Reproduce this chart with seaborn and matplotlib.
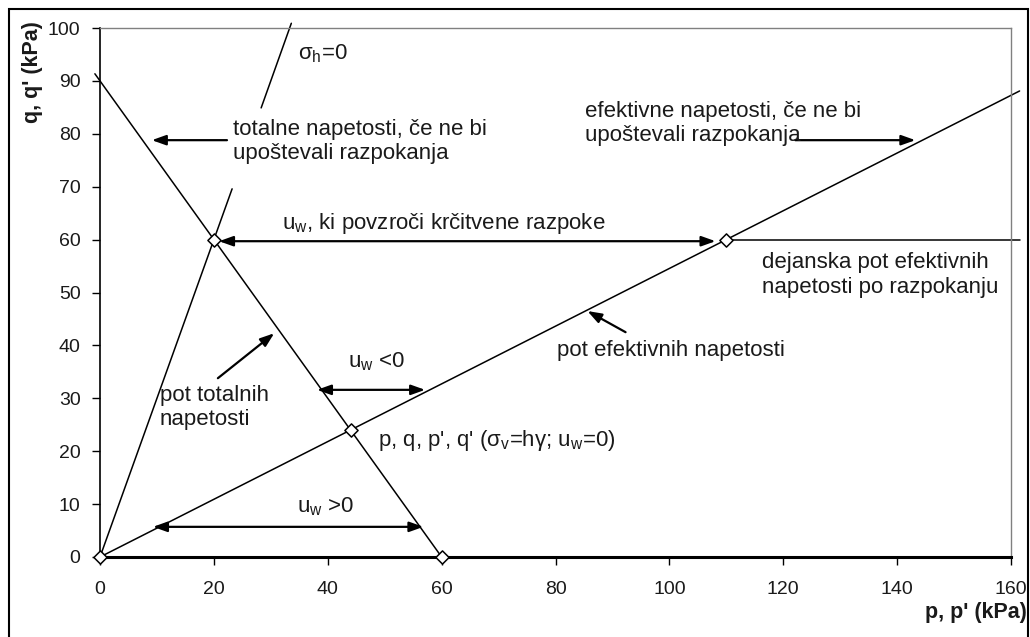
import matplotlib
matplotlib.use("Agg")
import matplotlib.pyplot as plt
import matplotlib.patches as patches
import seaborn as sns
import pandas as pd

# podatki (kPa)
total_p = [-0.9, 60]          # pot totalnih napetosti
total_q = [91.35, 0]
eff_p = [0, 161.5]            # pot efektivnih napetosti
eff_q = [0, 88.1]
crack_p = [110, 161.5]        # dejanska pot po razpokanju
crack_q = [60, 60]
sigh_lo_p = [0, 23.2]         # sigma_h = 0 (spodnji del)
sigh_lo_q = [0, 69.6]
sigh_hi_p = [28.3, 33.6]      # sigma_h = 0 (zgornji del)
sigh_hi_q = [84.9, 100.9]
pts_p = [0, 20, 44, 110, 60]
pts_q = [0, 60, 24, 60, 0]
x_ticks = list(range(0, 161, 20))
y_ticks = list(range(0, 101, 10))

sns.set_theme(style="white")
plt.rcParams['font.family'] = ['Liberation Sans', 'DejaVu Sans']
plt.rcParams['mathtext.fontset'] = 'custom'
plt.rcParams['mathtext.rm'] = 'Liberation Sans'
plt.rcParams['mathtext.it'] = 'Liberation Sans:italic'

fig = plt.figure(figsize=(10.3, 6.37), dpi=100)
ax = fig.add_axes([0.0971, 0.1256, 0.8845, 0.8304])

tc = '#1a1a1a'
for px, qy in [(total_p, total_q), (eff_p, eff_q), (crack_p, crack_q),
               (sigh_lo_p, sigh_lo_q), (sigh_hi_p, sigh_hi_q)]:
    df = pd.DataFrame({'p': px, 'q': qy})
    sns.lineplot(data=df, x='p', y='q', sort=False, color='black', lw=1.1,
                 ax=ax, clip_on=False)

sns.scatterplot(x=pts_p, y=pts_q, marker='D', s=45, facecolor='white',
                edgecolor='black', linewidth=1.1, zorder=5, ax=ax, clip_on=False)

def arrow(x1, y1, x2, y2, style='-|>'):
    ax.annotate('', xy=(x2, y2), xytext=(x1, y1),
                arrowprops=dict(arrowstyle=style + ',head_length=0.7,head_width=0.25',
                                lw=1.6, color='black', mutation_scale=12,
                                shrinkA=0, shrinkB=0), annotation_clip=False)

arrow(22.3, 78.8, 9.1, 78.8)
arrow(20.9, 59.7, 108.1, 59.7, '<|-|>')
arrow(122.1, 78.8, 143.2, 78.8)
arrow(92.3, 42.5, 85.6, 46.5)
arrow(20.7, 33.8, 30.6, 42.3)
arrow(38.1, 31.6, 57.1, 31.6, '<|-|>')
arrow(9.3, 5.7, 56.8, 5.7, '<|-|>')

fs = 16
ls = 1.2
ax.text(34.8, 95.1, 'σ$_\\mathrm{h}$=0', fontsize=fs, color=tc, va='center')
ax.text(23.4, 78.6, 'totalne napetosti, če ne bi\nupoštevali razpokanja',
        fontsize=fs, color=tc, va='center', linespacing=ls)
ax.text(32.0, 63.1, 'u$_\\mathrm{w}$, ki povzroči krčitvene razpoke',
        fontsize=fs, color=tc, va='center')
ax.text(85.2, 82.0, 'efektivne napetosti, če ne bi\nupoštevali razpokanja',
        fontsize=fs, color=tc, va='center', linespacing=ls)
ax.text(116.3, 53.3, 'dejanska pot efektivnih\nnapetosti po razpokanju',
        fontsize=fs, color=tc, va='center', linespacing=ls)
ax.text(80.3, 39.1, 'pot efektivnih napetosti', fontsize=fs, color=tc, va='center')
ax.text(10.5, 28.2, 'pot totalnih\nnapetosti', fontsize=fs, color=tc,
        va='center', linespacing=ls)
ax.text(43.6, 36.9, 'u$_\\mathrm{w}$ <0', fontsize=fs, color=tc, va='center')
ax.text(48.9, 22.1, "p, q, p', q' (σ$_\\mathrm{v}$=hγ; u$_\\mathrm{w}$=0)",
        fontsize=fs, color=tc, va='center')
ax.text(34.6, 9.5, 'u$_\\mathrm{w}$ >0', fontsize=fs, color=tc, va='center')

ax.set_xlim(0, 160)
ax.set_ylim(0, 100)
ax.set_xticks(x_ticks)
ax.set_yticks(y_ticks)
ax.tick_params(axis='both', labelsize=14, labelcolor=tc, color='black',
               direction='out', length=6, width=1, left=True, bottom=True)
ax.tick_params(axis='x', pad=11)
ax.tick_params(axis='y', pad=8)

ax.set_xlabel("p, p' (kPa)", fontsize=15.5, fontweight='bold', color=tc,
              ha='right', va='center')
ax.xaxis.set_label_coords(1.0176, -0.104)
ax.set_ylabel("q, q' (kPa)", fontsize=15.5, fontweight='bold', color=tc,
              ha='center', va='center')
ax.yaxis.set_label_coords(-0.0746, 0.917)

ax.spines['bottom'].set_linewidth(2.2)
ax.spines['bottom'].set_color('black')
ax.spines['left'].set_linewidth(1.2)
ax.spines['left'].set_color('black')
for s in ['top', 'right']:
    ax.spines[s].set_linewidth(1.0)
    ax.spines[s].set_color('#808080')

fig.patches.append(patches.Rectangle((9 / 1030, -0.02), 1019 / 1030, 1.02 - 9 / 637,
                                     transform=fig.transFigure, fill=False,
                                     edgecolor='black', lw=1.5, clip_on=False))

fig.savefig('out.png', dpi=100)
